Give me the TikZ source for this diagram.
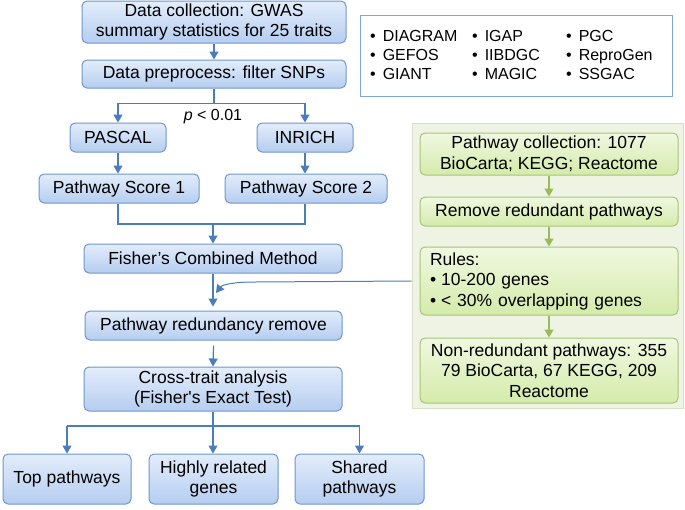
\documentclass[tikz,border=0pt]{standalone}
\usepackage{fontspec}
\setmainfont{Liberation Sans}[Ligatures=TeXOff]
\usetikzlibrary{arrows.meta,calc}
\definecolor{bborder}{HTML}{6E96CC}
\definecolor{btop}{HTML}{E3EDFB}
\definecolor{bbot}{HTML}{B5CDF0}
\definecolor{barrow}{HTML}{4A7EBB}
\definecolor{gborder}{HTML}{A8C47A}
\definecolor{gtop}{HTML}{F0F8E0}
\definecolor{gbot}{HTML}{D4EBAA}
\definecolor{garrow}{HTML}{9BBB59}
\definecolor{gpanel}{HTML}{EEF3E4}
\definecolor{gpanelb}{HTML}{D5E0C5}
\definecolor{dbborder}{HTML}{7EA6D8}
\tikzset{
  txt/.style={font=\fontsize{17.5}{20.5}\selectfont},
  bbox/.style={txt, draw=bborder, line width=1pt, rounded corners=5pt, top color=btop, bottom color=bbot, align=center, inner sep=0pt},
  gbox/.style={txt, draw=gborder, line width=1pt, rounded corners=5pt, top color=gtop, bottom color=gbot, align=center, inner sep=0pt},
  barr/.style={draw=barrow, line width=1.2pt, -{Triangle[width=9pt,length=8pt]}},
  bline/.style={draw=barrow, line width=1.2pt},
  garr/.style={draw=garrow, line width=1.2pt, -{Triangle[width=9pt,length=8pt]}},
  dbtxt/.style={font=\fontsize{16}{19}\selectfont, align=left, anchor=west, inner sep=0pt},
}
\begin{document}
\begin{tikzpicture}[x=1pt,y=-1pt]
\useasboundingbox (0,0) rectangle (685,509);
% left column
\node[bbox, minimum width=264, minimum height=42] (dc) at (214,22) {Data collection: GWAS\\summary statistics for 25 traits};
\node[bbox, minimum width=264, minimum height=28] (pp) at (214,74) {Data preprocess: filter SNPs};
\node[bbox, minimum width=96, minimum height=29] (pascal) at (118,137.5) {PASCAL};
\node[bbox, minimum width=96, minimum height=29] (inrich) at (305,137.5) {INRICH};
\node[bbox, minimum width=160, minimum height=29] (s1) at (119,188.5) {Pathway Score 1};
\node[bbox, minimum width=162, minimum height=29] (s2) at (306,188.5) {Pathway Score 2};
\node[bbox, minimum width=258, minimum height=29] (fisher) at (213,258.5) {Fisher’s Combined Method};
\node[bbox, minimum width=257, minimum height=29] (prr) at (213.5,325.5) {Pathway redundancy remove};
\node[bbox, minimum width=258, minimum height=44] (cross) at (213,389) {Cross-trait analysis\\(Fisher's Exact Test)};
\node[bbox, minimum width=128, minimum height=50] (top) at (67,479) {Top pathways};
\node[bbox, minimum width=129, minimum height=50] (genes) at (213.5,479) {Highly related\\genes};
\node[bbox, minimum width=129, minimum height=50] (shared) at (359.5,479) {Shared\\pathways};
\node[font=\fontsize{16}{19}\selectfont, inner sep=0pt] (pval) at (213,117) {\textit{p} < 0.01};
% database box
\node[draw=dbborder, line width=1pt, minimum width=312, minimum height=81, inner sep=0pt] (db) at (516,55.5) {};
\node[dbtxt] (db1) at (370,55) {•\hspace{7pt}DIAGRAM\\•\hspace{7pt}GEFOS\\•\hspace{7pt}GIANT};
\node[dbtxt] (db2) at (472,55) {•\hspace{7pt}IGAP\\•\hspace{7pt}IIBDGC\\•\hspace{7pt}MAGIC};
\node[dbtxt] (db3) at (566,55) {•\hspace{7pt}PGC\\•\hspace{7pt}ReproGen\\•\hspace{7pt}SSGAC};
% green panel
\node[fill=gpanel, draw=gpanelb, line width=0.8pt, minimum width=271, minimum height=285, inner sep=0pt] (panel) at (547.5,265.5) {};
\node[gbox, minimum width=258, minimum height=42] (pc) at (549,154) {Pathway collection: 1077\\BioCarta; KEGG; Reactome};
\node[gbox, minimum width=258, minimum height=29] (rr) at (549,211.5) {Remove redundant pathways};
\node[gbox, minimum width=258, minimum height=68, text width=238, align=left] (rules) at (549,281) {Rules:\\•\hspace{5pt}10-200 genes\\•\hspace{5pt}< 30\% overlapping genes};
\node[gbox, minimum width=258, minimum height=65] (nr) at (549,370.5) {Non-redundant pathways: 355\\79 BioCarta, 67 KEGG, 209\\Reactome};
% green arrows
\draw[garr] (pc.south) -- (rr.north);
\draw[garr] (rr.south) -- (rules.north);
\draw[garr] (rules.south) -- (nr.north);
% blue connectors
\draw[barr] (dc.south) -- (pp.north);
\coordinate (split1) at ($(pp.south)+(0,15)$);
\draw[bline] (pp.south) -- (split1);
\draw[barr] (split1) -| (pascal.north);
\draw[barr] (split1) -| (inrich.north);
\draw[barr] (pascal.south) -- (pascal.south |- s1.north);
\draw[barr] (inrich.south) -- (inrich.south |- s2.north);
\coordinate (merge) at (213,224);
\draw[bline] (pascal.south |- s1.south) |- (merge);
\draw[bline] (inrich.south |- s2.south) |- (merge);
\draw[barr] (merge) -- (merge |- fisher.north);
\draw[barr] (fisher.south) -- ($(fisher.south |- prr.north)+(0,-4)$);
\coordinate (cin) at (216,293);
\draw[barr, line width=1pt] (panel.west |- rules.center) -- (255,282) .. controls (232,282) and (222,285) .. (cin);
\draw[barr] (prr.south) ++(0,5) -- (cross.north);
\coordinate (split2) at (213,426);
\draw[bline] (cross.south) -- (split2);
\draw[bline] (top.north |- split2) -- (shared.north |- split2);
\draw[barr] (top.north |- split2) -- (top.north);
\draw[barr] (split2) -- (genes.north -| split2);
\draw[barr] (shared.north |- split2) -- (shared.north);
\end{tikzpicture}
\end{document}
